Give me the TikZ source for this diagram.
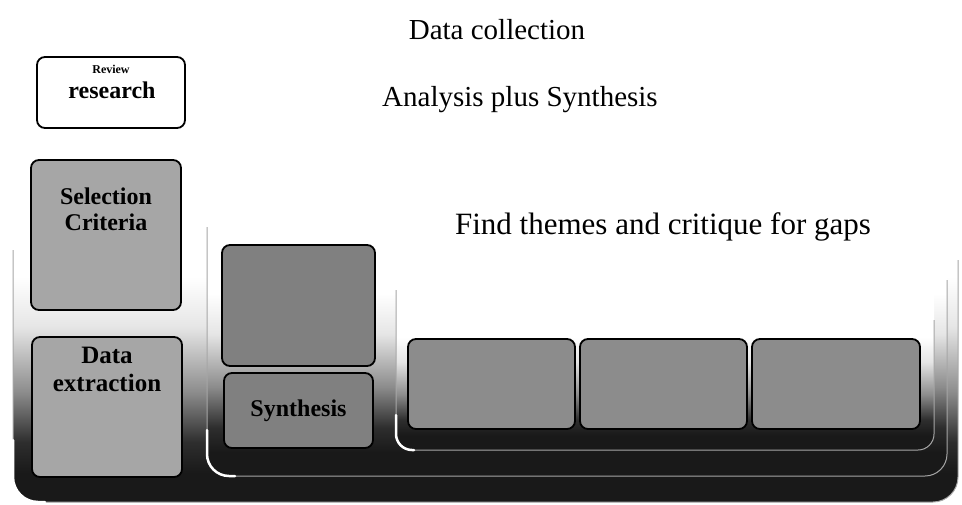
\documentclass[tikz,border=0pt]{standalone}
\usepackage{fontspec}
\setmainfont{Liberation Serif}
\pgfdeclareverticalshading{cont}{100bp}{color(0bp)=(black!90); color(28bp)=(black!90); color(31bp)=(black!82); color(36bp)=(black!45); color(42.5bp)=(black!10); color(47.5bp)=(white); color(100bp)=(white)}
\tikzset{
  title/.style={font=\fontsize{29}{31}\selectfont, inner sep=0pt},
  box/.style={draw=black, line width=1.8pt, rounded corners=8pt, fill=black!45, align=center, inner sep=2pt, font=\bfseries},
  head/.style={font=\bfseries\fontsize{24}{26}\selectfont, align=center, inner sep=0pt},
  contedge/.style={draw=black!35, line width=1pt},
  glint/.style={draw=white, line width=2.5pt, line cap=round}
}
\begin{document}
\begin{tikzpicture}[x=1pt,y=-1pt]
\useasboundingbox (0,0) rectangle (962,504);
% containers
\shade[shading=cont, rounded corners=25pt] (13,2) rectangle (958,502);
\draw[contedge, rounded corners=25pt] (13,250) -- (13,502) -- (958,502) -- (958,260);
\draw[glint, rounded corners=25pt] (13,440) -- (13,502) -- (45,502);
\shade[shading=cont, rounded corners=22pt] (207,70) rectangle (947,476);
\draw[contedge, rounded corners=22pt] (207,227) -- (207,476) -- (947,476) -- (947,280);
\draw[glint, rounded corners=22pt] (207,430) -- (207,476) -- (235,476);
\shade[shading=cont, rounded corners=16pt] (396,198) rectangle (934,450);
\draw[contedge, rounded corners=16pt] (396,290) -- (396,450) -- (934,450) -- (934,320);
\draw[glint, rounded corners=16pt] (396,415) -- (396,450) -- (414,450);
% titles
\node[title] (t1) at (497,30) {Data collection};
\node[title] (t2) at (520,100) {Analysis plus Synthesis};
\node[title, font=\fontsize{31}{33}\selectfont] (t3) at (663,227) {Find themes and critique for gaps};
% left column
\node[box, fill=white, minimum width=148pt, minimum height=71pt] (A) at (111,92.5) {};
\node[font=\bfseries\fontsize{12}{13}\selectfont, inner sep=0pt] (A1) at (111,69) {Review};
\node[head] (A2) at (112,90) {research};
\node[box, fill=black!35, minimum width=150pt, minimum height=150pt] (B) at (106,235) {};
\node[head, font=\bfseries\fontsize{24}{26}\selectfont] (B1) at (106,209) {Selection\\Criteria};
\node[box, fill=black!35, minimum width=150pt, minimum height=140pt] (C) at (107,407) {};
\node[head, font=\bfseries\fontsize{25}{28}\selectfont] (C1) at (107,369) {Data\\extraction};
% middle column
\node[box, fill=black!50, minimum width=153pt, minimum height=121pt] (D) at (298.5,305.5) {};
\node[box, fill=black!50, minimum width=149pt, minimum height=75pt, font=\bfseries\fontsize{24}{26}\selectfont] (E) at (298.5,410.5) {Synthesis};
% right row
\node[box, minimum width=167pt, minimum height=90pt] (F) at (491.5,384) {};
\node[box, minimum width=167pt, minimum height=90pt] (G) at (663.5,384) {};
\node[box, minimum width=168pt, minimum height=90pt] (H) at (836,384) {};
\end{tikzpicture}
\end{document}
